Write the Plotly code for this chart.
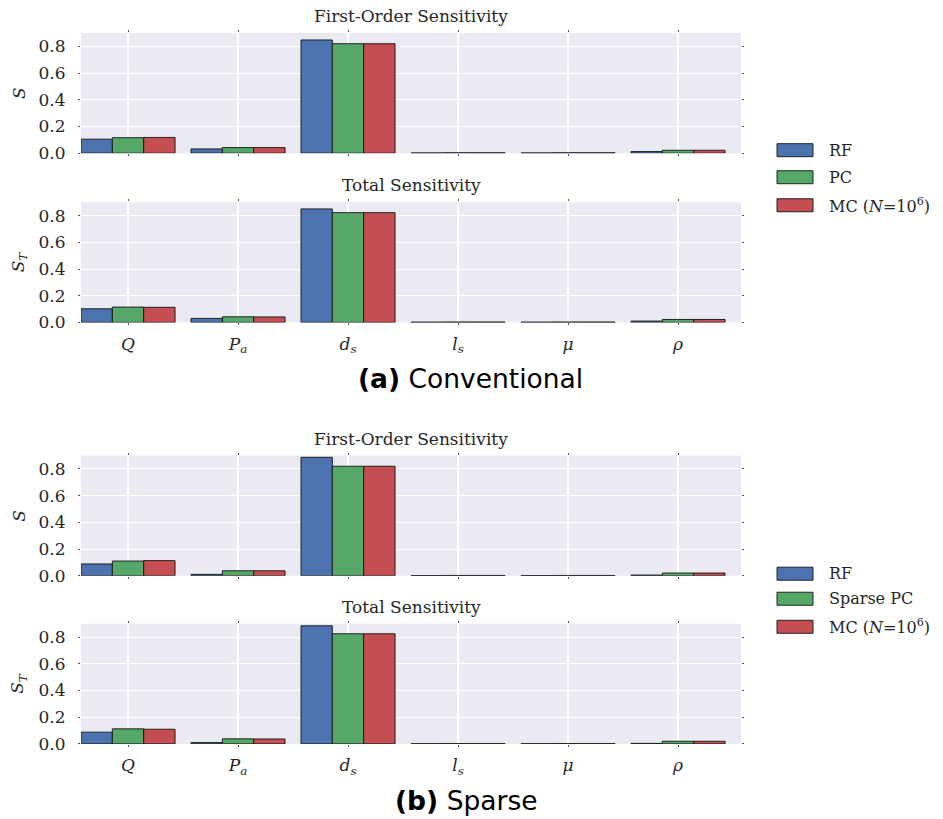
import plotly.graph_objects as go

# ---------------- data ----------------
params = ["<i>Q</i>", "<i>P</i><sub><i>a</i></sub>", "<i>d</i><sub><i>s</i></sub>",
          "<i>l</i><sub><i>s</i></sub>", "<i>μ</i>", "<i>ρ</i>"]
xpos = [0, 1, 2, 3, 4, 5]

# (a) Conventional
conv_first_rf = [0.105, 0.032, 0.848, 0.002, 0.002, 0.012]
conv_first_pc = [0.116, 0.042, 0.820, 0.003, 0.003, 0.022]
conv_first_mc = [0.118, 0.042, 0.820, 0.003, 0.003, 0.022]

conv_total_rf = [0.102, 0.030, 0.850, 0.002, 0.002, 0.010]
conv_total_pc = [0.115, 0.042, 0.822, 0.003, 0.003, 0.022]
conv_total_mc = [0.113, 0.041, 0.822, 0.003, 0.003, 0.022]

# (b) Sparse
sparse_first_rf = [0.088, 0.010, 0.887, 0.001, 0.001, 0.005]
sparse_first_pc = [0.110, 0.037, 0.820, 0.002, 0.002, 0.020]
sparse_first_mc = [0.113, 0.037, 0.820, 0.002, 0.002, 0.020]

sparse_total_rf = [0.088, 0.010, 0.885, 0.001, 0.001, 0.004]
sparse_total_pc = [0.113, 0.038, 0.825, 0.002, 0.002, 0.020]
sparse_total_mc = [0.110, 0.037, 0.825, 0.002, 0.002, 0.020]

yticks = [0.0, 0.2, 0.4, 0.6, 0.8]
colors = ["#4C72B0", "#55A868", "#C44E52"]
legend_a = ["RF", "PC", "MC (<i>N</i>=10<sup>6</sup>)"]
legend_b = ["RF", "Sparse PC", "MC (<i>N</i>=10<sup>6</sup>)"]

# ---------------- layout helpers ----------------
W, H = 943, 819
H_EFF = 808  # rendered plotting height observed in the viewer
SERIF = "DejaVu Serif"
TXT = "#262626"

def py(pix):  # pixel y -> paper y
    return 1 - pix / H_EFF

def px(pix):
    return pix / W

panels = [
    # (top px, bottom px, data, title, ylabel, show x ticks)
    (33, 153, [conv_first_rf, conv_first_pc, conv_first_mc], "First-Order Sensitivity", "<i>S</i>", False),
    (202, 322, [conv_total_rf, conv_total_pc, conv_total_mc], "Total Sensitivity", "<i>S</i><sub><i>T</i></sub>", True),
    (455, 575, [sparse_first_rf, sparse_first_pc, sparse_first_mc], "First-Order Sensitivity", "<i>S</i>", False),
    (623, 743, [sparse_total_rf, sparse_total_pc, sparse_total_mc], "Total Sensitivity", "<i>S</i><sub><i>T</i></sub>", True),
]

fig = go.Figure()
layout = dict(
    width=W, height=H, autosize=False,
    margin=dict(l=0, r=0, t=0, b=0, pad=0),
    paper_bgcolor="white",
    plot_bgcolor="#EAEAF2",
    barmode="group",
    bargap=0.145,
    bargroupgap=0,
    showlegend=False,
    font=dict(family=SERIF, size=17, color=TXT),
)
annotations = []
shapes = []
X0, X1 = 81, 741

for i, (top, bot, data, title, ylab, showx) in enumerate(panels):
    k = "" if i == 0 else str(i + 1)
    names = legend_a if i < 2 else legend_b
    for j in range(3):
        fig.add_trace(go.Bar(
            x=xpos, y=data[j], name=names[j],
            marker=dict(color=colors[j], line=dict(color="rgba(20,20,20,0.9)", width=1)),
            xaxis="x" + k, yaxis="y" + k,
        ))
    layout["xaxis" + k] = dict(
        domain=[px(X0), px(X1)], anchor="y" + k,
        range=[-0.4275, 5.5725],
        tickmode="array", tickvals=xpos, ticktext=params,
        showticklabels=showx,
        showgrid=True, gridcolor="white", gridwidth=1.5,
        zeroline=False, showline=False,
        ticks="outside", ticklen=2, tickcolor="#555555", mirror="ticks",
        tickfont=dict(family=SERIF, size=17, color=TXT),
        ticklabelstandoff=4,
    )
    layout["yaxis" + k] = dict(
        domain=[py(bot), py(top)], anchor="x" + k,
        range=[0, 0.9],
        tickmode="array", tickvals=yticks,
        tickformat=".1f",
        showgrid=True, gridcolor="white", gridwidth=1.3,
        zeroline=False, showline=False,
        ticks="outside", ticklen=2, tickcolor="#555555", mirror="ticks",
        tickfont=dict(family=SERIF, size=17, color=TXT),
        ticklabelstandoff=9,
    )
    # subplot title
    annotations.append(dict(
        text=title, xref="paper", yref="paper",
        x=px((X0 + X1) / 2), y=py(top - 5), xanchor="center", yanchor="bottom",
        showarrow=False, font=dict(family=SERIF, size=17, color=TXT),
    ))
    # y axis label
    annotations.append(dict(
        text=ylab, xref="paper", yref="paper",
        x=px(19), y=py((top + bot) / 2), xanchor="center", yanchor="middle",
        textangle=-90, showarrow=False, font=dict(family=SERIF, size=17, color=TXT),
    ))

# captions
CAP = "DejaVu Sans"
annotations.append(dict(
    text="<b>(a)</b> Conventional", xref="paper", yref="paper",
    x=px(470), y=py(378), xanchor="center", yanchor="middle", showarrow=False,
    font=dict(family=CAP, size=26.5, color="black"),
))
annotations.append(dict(
    text="<b>(b)</b> Sparse", xref="paper", yref="paper",
    x=px(466), y=py(800), xanchor="center", yanchor="middle", showarrow=False,
    font=dict(family=CAP, size=26.5, color="black"),
))

# custom legends (wide rectangular swatches)
for names, centers in [(legend_a, [150, 177, 205]), (legend_b, [573, 598, 626])]:
    for j in range(3):
        c = centers[j]
        shapes.append(dict(
            type="rect", xref="paper", yref="paper",
            x0=px(777), x1=px(813), y0=py(c + 6.5), y1=py(c - 6.5),
            fillcolor=colors[j], line=dict(color="rgba(20,20,20,0.9)", width=1),
        ))
        annotations.append(dict(
            text=names[j], xref="paper", yref="paper",
            x=px(827), y=py(c), xanchor="left", yanchor="middle", showarrow=False,
            font=dict(family=SERIF, size=16, color=TXT),
        ))

layout["annotations"] = annotations
layout["shapes"] = shapes
fig.update_layout(**layout)
fig.write_html("out.html")
